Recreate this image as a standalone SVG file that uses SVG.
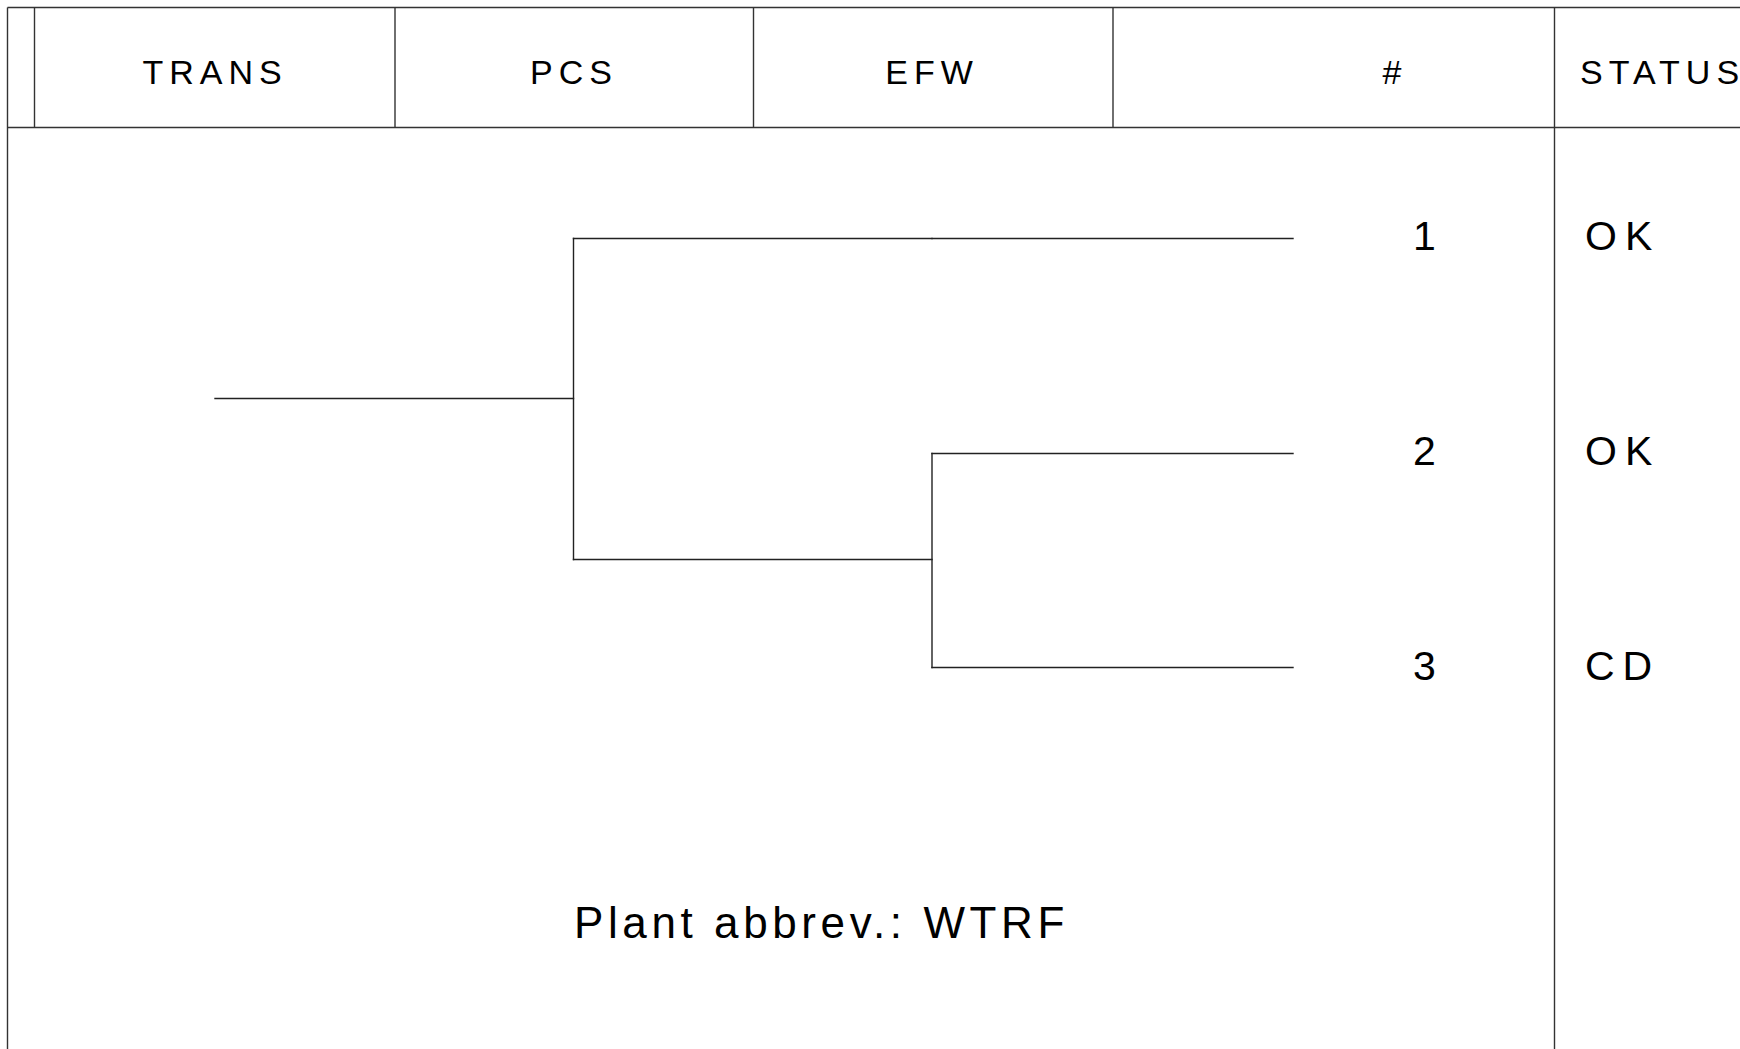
<svg xmlns="http://www.w3.org/2000/svg" width="1740" height="1049" viewBox="0 0 1740 1049">
  <style>
    .grid { stroke: #333; stroke-width: 1.4; fill: none; }
    .edge { stroke: #222; stroke-width: 1.4; fill: none; stroke-linecap: square; }
    .hdr { font-family: "Liberation Sans", Arial, sans-serif; font-size: 34px; letter-spacing: 6px; fill: #000; text-anchor: middle; }
    .lbl { font-family: "Liberation Sans", Arial, sans-serif; font-size: 41px; letter-spacing: 8px; fill: #000; }
    .note { font-family: "Liberation Sans", Arial, sans-serif; font-size: 44px; letter-spacing: 4.6px; fill: #000; }
  </style>
  <rect width="1740" height="1049" fill="#fff"/>

  <!-- table frame -->
  <g id="table" class="grid">
    <line x1="7.5" y1="7.5" x2="1740" y2="7.5"/>
    <line x1="7.5" y1="127.5" x2="1740" y2="127.5"/>
    <line x1="7.5" y1="7.5" x2="7.5" y2="1049"/>
    <line x1="34.5" y1="7.5" x2="34.5" y2="127.5"/>
    <line x1="395" y1="7.5" x2="395" y2="127.5"/>
    <line x1="753.5" y1="7.5" x2="753.5" y2="127.5"/>
    <line x1="1113" y1="7.5" x2="1113" y2="127.5"/>
    <line x1="1554.5" y1="7.5" x2="1554.5" y2="1049"/>
  </g>

  <!-- column headers -->
  <g id="header-trans"><text class="hdr" x="215" y="84">TRANS</text></g>
  <g id="header-pcs"><text class="hdr" x="574" y="84">PCS</text></g>
  <g id="header-efw"><text class="hdr" x="932" y="84">EFW</text></g>
  <g id="header-num"><text class="hdr" x="1395" y="84">#</text></g>
  <g id="header-status"><text class="hdr" x="1580" y="84" style="text-anchor:start">STATUS</text></g>

  <!-- tree -->
  <g id="connectors" class="edge">
    <line x1="215" y1="398.5" x2="573.5" y2="398.5"/>
    <line x1="573.5" y1="238.5" x2="573.5" y2="559.5"/>
    <line x1="573.5" y1="238.5" x2="932" y2="238.5"/>
    <line x1="932" y1="238.5" x2="1293" y2="238.5"/>
    <line x1="573.5" y1="559.5" x2="932" y2="559.5"/>
    <line x1="932" y1="453.5" x2="932" y2="667.5"/>
    <line x1="932" y1="453.5" x2="1293" y2="453.5"/>
    <line x1="932" y1="667.5" x2="1293" y2="667.5"/>
  </g>

  <!-- rows -->
  <g id="row-1">
    <text class="lbl" x="1428.5" y="250" style="text-anchor:middle">1</text>
    <text class="lbl" x="1585" y="250">OK</text>
  </g>
  <g id="row-2">
    <text class="lbl" x="1428.5" y="465" style="text-anchor:middle">2</text>
    <text class="lbl" x="1585" y="465">OK</text>
  </g>
  <g id="row-3">
    <text class="lbl" x="1428.5" y="680" style="text-anchor:middle">3</text>
    <text class="lbl" x="1585" y="680">CD</text>
  </g>

  <g id="plant-note"><text class="note" x="574" y="938">Plant abbrev.: WTRF</text></g>
</svg>
